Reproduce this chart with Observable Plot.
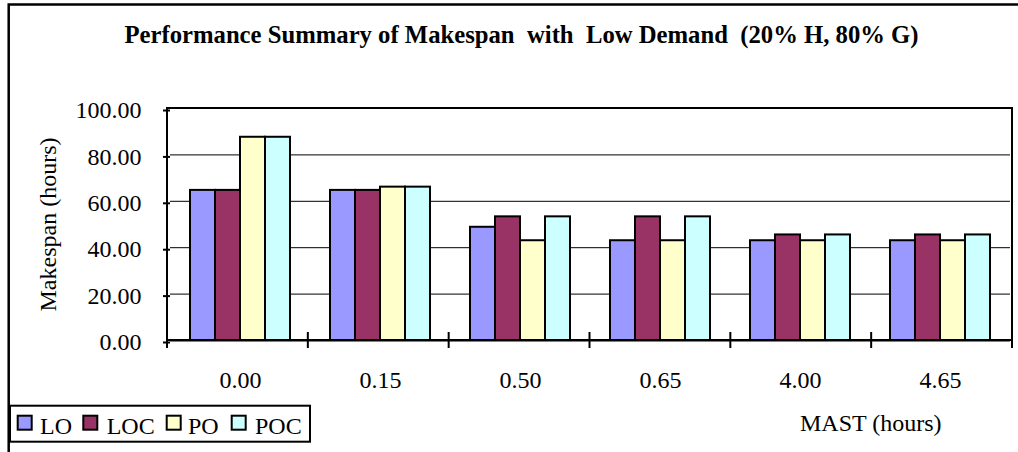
<!DOCTYPE html>
<html>
<head>
<meta charset="utf-8">
<script src="https://cdn.jsdelivr.net/npm/d3@7"></script>
<script src="https://cdn.jsdelivr.net/npm/@observablehq/plot@0.6"></script>
<style>
  html, body { margin: 0; padding: 0; background: #ffffff; }
  #chart svg { display: block; }
</style>
</head>
<body>
<div id="chart"></div>
<script>
// ---- data ----
const mast = ["0.00", "0.15", "0.50", "0.65", "4.00", "4.65"];
const series = ["LO", "LOC", "PO", "POC"];
const LO  = [64.7, 64.7, 48.8, 43.0, 43.0, 43.0];
const LOC = [64.7, 64.7, 53.3, 53.3, 45.5, 45.5];
const PO  = [87.6, 66.1, 43.0, 43.0, 43.0, 43.0];
const POC = [87.6, 66.1, 53.3, 53.3, 45.5, 45.5];
const seriesColors = ["#9999FF", "#993366", "#FFFFCC", "#CCFFFF"];
const yTicks = [0, 20, 40, 60, 80, 100];
const titleText = "Performance Summary of Makespan  with  Low Demand  (20% H, 80% G)";
const yLabel = "Makespan (hours)";
const xLabel = "MAST (hours)";

const valuesBySeries = {LO, LOC, PO, POC};
const data = [];
mast.forEach((m, i) => series.forEach(s => data.push({mast: m, series: s, value: valuesBySeries[s][i]})));

// ---- layout ----
const W = 1018, H = 452;
const ML = 167, MR = 6, MT = 108, MB = 112;
const FONT = "'Liberation Serif', 'Times New Roman', serif";

const plot = Plot.plot({
  width: W, height: H,
  marginLeft: ML, marginRight: MR, marginTop: MT, marginBottom: MB,
  style: {fontFamily: FONT, fontSize: "24px", background: "white", color: "black", overflow: "visible"},
  fx: {domain: mast, padding: 0, label: null},
  x: {domain: series, paddingInner: 0, paddingOuter: 0.75, axis: null},
  y: {domain: [0, 100]},
  color: {domain: series, range: seriesColors},
  marks: [
    Plot.gridY(yTicks, {stroke: "black", strokeOpacity: 1, strokeWidth: 1}),
    Plot.barY(data, {fx: "mast", x: "series", y: "value", fill: "series", stroke: "black", strokeWidth: 2}),
    Plot.ruleY([0], {stroke: "black", strokeWidth: 2}),
    Plot.axisY(yTicks, {
      tickFormat: d => d.toFixed(2), tickSize: 7, tickPadding: 22, strokeWidth: 2,
      fontSize: 24, dy: 2,
      label: yLabel, labelAnchor: "center", labelArrow: "none", labelOffset: 132
    }),
    Plot.axisFx({anchor: "bottom", tickSize: 0, tickPadding: 30, fontSize: 24, label: null})
  ]
});

document.getElementById("chart").appendChild(plot);

// ---- decorations ----
const svg = d3.select(plot);
const fxs = plot.scale("fx");
const band = d3.scaleBand().domain(fxs.domain).range(fxs.range)
  .paddingInner(fxs.paddingInner || 0).paddingOuter(fxs.paddingOuter || 0);
const x0 = band.range()[0], x1 = band.range()[1];
const yBase = H - MB;

// plot-area border
svg.append("rect")
  .attr("x", x0).attr("y", MT).attr("width", x1 - x0).attr("height", yBase - MT)
  .attr("fill", "none").attr("stroke", "black").attr("stroke-width", 2);

// category boundary ticks
const edges = fxs.domain.map(d => band(d)).concat([x1]);
edges.forEach((e, i) => {
  const interior = i > 0 && i < edges.length - 1;
  svg.append("line")
    .attr("x1", e).attr("x2", e)
    .attr("y1", interior ? yBase - 8 : yBase).attr("y2", yBase + 8)
    .attr("stroke", "black").attr("stroke-width", 2);
});

// page border (left and top)
svg.append("path")
  .attr("d", `M8.7,${H} L8.7,4.5 L${W},4.5`)
  .attr("fill", "none").attr("stroke", "black").attr("stroke-width", 2.5);

// title
svg.append("text")
  .attr("x", 521.5).attr("y", 43)
  .attr("text-anchor", "middle")
  .attr("font-family", FONT).attr("font-weight", "bold").attr("font-size", 24.7)
  .attr("fill", "black")
  .text(titleText);

// x-axis title
svg.append("text")
  .attr("x", 800).attr("y", 431)
  .attr("text-anchor", "start")
  .attr("font-family", FONT).attr("font-size", 24).attr("fill", "black")
  .text(xLabel);

// legend
const lg = svg.append("g").attr("text-anchor", "start");
lg.append("rect").attr("x", 10).attr("y", 405.7).attr("width", 300).attr("height", 36)
  .attr("fill", "white").attr("stroke", "black").attr("stroke-width", 2);
const swX = [17.7, 83.3, 166.7, 231.7];
const txX = [40, 106.7, 188, 255];
series.forEach((s, i) => {
  lg.append("rect").attr("x", swX[i]).attr("y", 415.7).attr("width", 14).attr("height", 14)
    .attr("fill", seriesColors[i]).attr("stroke", "black").attr("stroke-width", 2);
  lg.append("text").attr("x", txX[i]).attr("y", 433.5)
    .attr("text-anchor", "start")
    .attr("font-family", FONT).attr("font-size", 24).attr("fill", "black")
    .text(s);
});
</script>
</body>
</html>
